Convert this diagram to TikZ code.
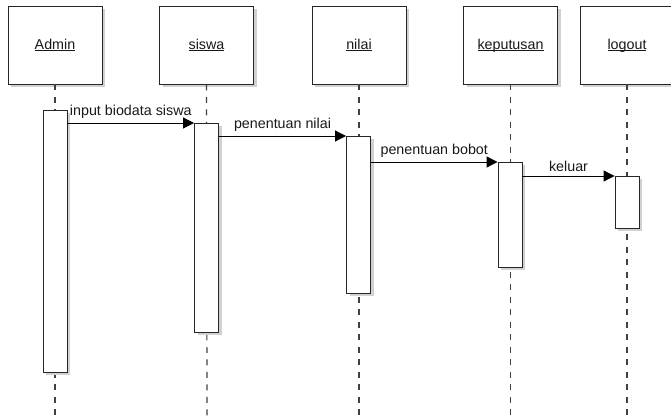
\documentclass[tikz,border=0pt]{standalone}
\usepackage{fontspec}
\setmainfont{Liberation Sans}
\usetikzlibrary{arrows.meta,shadows}
% underlined object name; the descenders are ignored so every rule sits just under the baseline
\newcommand{\objname}[1]{\underline{\raisebox{0pt}[\height][0pt]{#1}}}
\begin{document}
\begin{tikzpicture}[x=1pt,y=-1pt,
  font=\fontsize{14.3}{16}\selectfont,
  boxshadow/.style={drop shadow={shadow xshift=3pt,shadow yshift=-3pt,fill=black!18,opacity=1}},
  objbox/.style={draw=black!85,line width=0.9pt,fill=white,boxshadow,
    minimum width=94pt,minimum height=78pt,inner sep=0pt,text=black!90},
  actbar/.style={draw=black!85,line width=0.9pt,fill=white,boxshadow,
    minimum width=24pt,inner sep=0pt,anchor=north},
  lifeline/.style={draw=black!75,line width=1.2pt,dash pattern=on 6pt off 6.5pt},
  msg/.style={draw=black,line width=1pt,-{Triangle[length=11pt,width=11pt]}},
  msglabel/.style={midway,above=4pt,inner sep=0pt,text=black!90}]
\useasboundingbox (0,0) rectangle (671,417);

% lower ends of the lifelines
\coordinate (e1) at (55,417);
\coordinate (e2) at (207,417);
\coordinate (e3) at (359,417);
\coordinate (e4) at (510.5,417);
\coordinate (e5) at (627,417);

% object heads
\node[objbox] (admin) at (55,45) {\objname{Admin}};
\node[objbox] (siswa) at (206.5,45) {\objname{siswa}};
\node[objbox] (nilai) at (359,45) {\objname{nilai}};
\node[objbox] (keputusan) at (510.5,45) {\objname{keputusan}};
\node[objbox] (logout) at (627,45) {\objname{logout}};

% lifelines before the activation bars, so the bars cover them
\draw[lifeline] (admin.south) -- (e1);
\draw[lifeline] (siswa.south) -- (e2);
\draw[lifeline] (nilai.south) -- (e3);
\draw[lifeline] (keputusan.south) -- (e4);
\draw[lifeline] (logout.south) -- (e5);

% activation bars
\node[actbar,minimum height=262pt] (ab) at (55,110) {};
\node[actbar,minimum height=209pt] (sb) at (206.5,123) {};
\node[actbar,minimum height=157pt] (nb) at (358.5,136) {};
\node[actbar,minimum height=105pt] (kb) at (510,162) {};
\node[actbar,minimum height=52pt] (lb) at (627,176) {};

% messages
\draw[msg] (ab.east |- sb.north) -- (sb.north west)
  node[msglabel] {input biodata siswa};
\draw[msg] (sb.east |- nb.north) -- (nb.north west)
  node[msglabel] {penentuan nilai};
\draw[msg] (nb.east |- kb.north) -- (kb.north west)
  node[msglabel] {penentuan bobot};
\draw[msg] (kb.east |- lb.north) -- (lb.north west)
  node[msglabel] {keluar};
\end{tikzpicture}
\end{document}
